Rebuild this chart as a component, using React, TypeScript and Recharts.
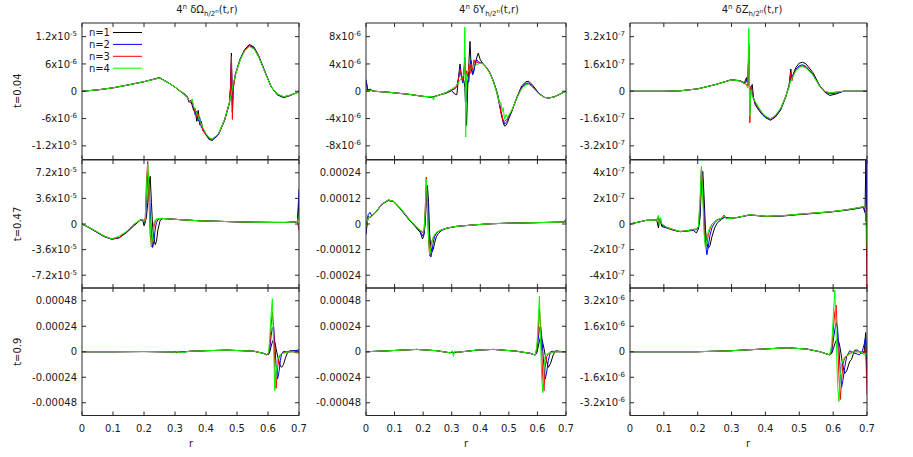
import React from 'react';
import { LineChart, Line, XAxis, YAxis, Legend } from 'recharts';

// ---------- shared labels ----------
const X_TICKS = [0, 0.1, 0.2, 0.3, 0.4, 0.5, 0.6, 0.7];
const X_LABELS = ['0', '0.1', '0.2', '0.3', '0.4', '0.5', '0.6', '0.7'];
const SERIES_KEYS = ['n1', 'n2', 'n3', 'n4'];
const SERIES_NAMES = ['n=1', 'n=2', 'n=3', 'n=4'];
const SERIES_COLORS = ['#000000', '#0000ff', '#ff0000', '#00ff00'];
const COLUMN_SYMBOLS = ['Ω', 'Y', 'Z'];
const ROW_LABELS = ['t=0.04', 't=0.47', 't=0.9'];
const X_TITLE = 'r';

// ---------- row 1 (t=0.04) ----------
// Omega, unit 1e-6
const R1C1_R = [0, 0.05, 0.10, 0.15, 0.20, 0.25, 0.28, 0.30, 0.32, 0.33, 0.34, 0.345, 0.35, 0.355, 0.36, 0.365, 0.37, 0.375, 0.38, 0.385, 0.39, 0.40, 0.41, 0.42, 0.44, 0.46, 0.47, 0.476, 0.479, 0.482, 0.485, 0.488, 0.495, 0.51, 0.525, 0.54, 0.555, 0.57, 0.59, 0.61, 0.63, 0.65, 0.67, 0.69, 0.70];
const R1C1_N1 = [0, 0.3, 0.75, 1.4, 2.1, 3.0, 1.8, 0.9, -0.2, -0.5, -1.3, -2.4, -2.0, -3.0, -4.2, -3.8, -6.6, -4.2, -7.4, -6.6, -8.6, -9.6, -10.6, -10.8, -9.6, -6.4, -4.0, -2.6, 1.0, 8.4, -4.6, 1.0, 3.8, 7.1, 9.2, 10.3, 9.7, 7.8, 4.4, 1.0, -0.8, -1.4, -1.0, -0.4, -0.1];
const R1C1_N2 = [0, 0.3, 0.75, 1.4, 2.1, 2.95, 1.8, 0.9, -0.1, -0.8, -1.2, -2.2, -2.5, -2.3, -3.6, -5.2, -4.4, -6.6, -5.8, -8.0, -8.2, -9.5, -10.4, -10.7, -9.5, -6.3, -3.9, -2.4, 0.5, 6.2, -3.0, 1.3, 3.7, 7.0, 9.1, 10.1, 9.5, 7.7, 4.3, 1.0, -0.7, -1.3, -0.9, -0.4, -0.1];
const R1C1_N3 = [0, 0.3, 0.75, 1.4, 2.1, 2.9, 1.8, 0.9, -0.1, -0.7, -1.4, -2.0, -2.6, -2.0, -3.4, -4.6, -5.6, -5.0, -7.0, -7.4, -8.6, -9.4, -10.3, -10.6, -9.4, -6.2, -3.8, -2.3, 0.0, 7.6, -6.2, 0.6, 3.6, 6.9, 9.0, 10.0, 9.4, 7.6, 4.2, 1.0, -0.6, -1.2, -0.9, -0.4, -0.1];
const R1C1_N4 = [0, 0.3, 0.75, 1.4, 2.1, 2.9, 1.8, 0.9, -0.1, -0.7, -1.5, -1.9, -2.4, -1.7, -3.3, -4.0, -4.8, -5.6, -6.4, -7.2, -8.0, -9.3, -10.2, -10.5, -9.4, -6.2, -3.8, -2.4, -1.2, -0.6, 0.6, 1.8, 3.6, 6.8, 8.9, 9.8, 9.3, 7.5, 4.2, 1.0, -0.6, -1.2, -0.9, -0.4, -0.1];
const R1C1_YTICKS = [-1.2e-5, -6e-6, 0, 6e-6, 1.2e-5];
const R1C1_YLABELS = ['-1.2x10^-5', '-6x10^-6', '0', '6x10^-6', '1.2x10^-5'];

// Y, unit 1e-6
const R1C2_R = [0, 0.006, 0.015, 0.022, 0.03, 0.08, 0.15, 0.20, 0.232, 0.236, 0.24, 0.26, 0.28, 0.30, 0.31, 0.318, 0.324, 0.329, 0.334, 0.339, 0.343, 0.346, 0.349, 0.352, 0.356, 0.36, 0.364, 0.368, 0.373, 0.378, 0.383, 0.388, 0.393, 0.40, 0.408, 0.42, 0.434, 0.446, 0.457, 0.463, 0.468, 0.472, 0.476, 0.48, 0.485, 0.49, 0.495, 0.50, 0.51, 0.527, 0.545, 0.56, 0.57, 0.585, 0.605, 0.625, 0.64, 0.66, 0.68, 0.70];
const R1C2_N1 = [1.7, 0.2, 0.3, 0.1, 0.0, -0.15, -0.45, -0.75, -0.85, -0.8, -0.75, -0.5, -0.3, 0.1, -0.4, -0.5, 2.0, 4.0, 2.2, 1.8, 1.5, 0.5, -2.5, -5.0, 0.5, 4.0, 7.3, 3.5, 2.4, 3.2, 4.2, 5.0, 5.6, 4.6, 4.1, 3.6, 2.7, 1.5, 0.1, -0.8, -2.0, -3.0, -3.8, -4.6, -5.1, -5.0, -4.6, -4.0, -3.0, -1.0, 0.8, 1.4, 1.45, 0.8, -0.3, -0.9, -1.0, -0.8, -0.4, 0.0];
const R1C2_N2 = [1.6, 0.1, 0.2, 0.05, 0.0, -0.15, -0.45, -0.75, -0.85, -0.8, -0.8, -0.5, -0.2, 0.2, 0.3, 0.7, 2.0, 3.6, 2.0, 1.2, 3.0, 5.0, 2.0, -1.5, 1.5, 1.4, 3.8, 4.5, 2.4, 3.0, 4.2, 4.6, 4.3, 4.2, 4.1, 3.55, 2.65, 1.45, 0.0, -1.0, -2.2, -2.8, -3.8, -4.2, -4.8, -4.6, -4.3, -3.8, -2.9, -1.05, 0.6, 1.15, 1.2, 0.65, -0.35, -0.9, -1.0, -0.8, -0.4, 0.0];
const R1C2_N3 = [0.3, 0.1, 0.15, 0.05, 0.0, -0.15, -0.45, -0.75, -0.85, -0.8, -0.8, -0.5, -0.2, 0.25, 0.4, 0.8, 1.8, 3.2, 2.4, 1.6, 3.4, 4.2, 0.5, 3.0, 2.2, 3.8, 2.6, 4.0, 3.2, 4.6, 4.0, 4.2, 4.2, 4.15, 4.05, 3.5, 2.6, 1.4, -0.05, -1.2, -2.0, -3.2, -3.4, -4.4, -4.4, -4.2, -4.1, -3.6, -2.85, -1.05, 0.5, 1.05, 1.1, 0.55, -0.4, -0.9, -1.0, -0.8, -0.4, 0.0];
const R1C2_N4 = [0.05, 0.05, 0.1, 0.05, 0.0, -0.15, -0.45, -0.75, -0.8, -1.3, -0.8, -0.5, -0.2, 0.3, 0.6, 0.9, 1.3, 1.6, 1.9, 2.2, 2.4, 9.4, -6.7, 2.6, 2.8, 3.0, 3.2, 3.35, 3.5, 3.65, 3.8, 3.9, 4.0, 4.1, 4.05, 3.5, 2.6, 1.4, -0.1, -0.9, -1.9, -1.6, -3.0, -2.4, -4.1, -3.4, -3.9, -3.5, -2.8, -1.1, 0.4, 0.95, 1.05, 0.5, -0.4, -0.9, -1.0, -0.8, -0.4, 0.0];
const R1C2_YTICKS = [-8e-6, -4e-6, 0, 4e-6, 8e-6];
const R1C2_YLABELS = ['-8x10^-6', '-4x10^-6', '0', '4x10^-6', '8x10^-6'];

// Z, unit 1e-7
const R1C3_R = [0, 0.10, 0.15, 0.20, 0.25, 0.30, 0.325, 0.338, 0.344, 0.348, 0.351, 0.354, 0.357, 0.361, 0.365, 0.37, 0.38, 0.39, 0.40, 0.415, 0.43, 0.445, 0.46, 0.47, 0.475, 0.478, 0.482, 0.49, 0.50, 0.51, 0.52, 0.54, 0.56, 0.575, 0.59, 0.61, 0.63, 0.70];
const R1C3_N1 = [0, 0.0, 0.03, 0.14, 0.38, 0.68, 0.62, 0.5, 0.8, 0.3, 2.6, -1.2, 0.2, 0.4, -0.4, -0.8, -1.1, -1.35, -1.55, -1.7, -1.5, -1.1, -0.35, 0.4, 1.3, 0.7, 1.0, 1.4, 1.65, 1.7, 1.6, 1.1, 0.35, -0.05, -0.25, -0.15, 0.0, 0.0];
const R1C3_N2 = [0, 0.0, 0.03, 0.14, 0.38, 0.67, 0.6, 0.45, 0.6, 0.8, 2.0, -0.8, 0.2, -0.1, -0.4, -0.7, -1.0, -1.3, -1.5, -1.65, -1.45, -1.05, -0.3, 0.3, 0.9, 0.8, 0.95, 1.3, 1.5, 1.55, 1.45, 1.0, 0.32, -0.02, -0.15, -0.1, 0.0, 0.0];
const R1C3_N3 = [0, 0.0, 0.03, 0.14, 0.38, 0.67, 0.6, 0.45, 0.4, 0.3, 2.8, -1.85, 0.3, -0.2, -0.45, -0.65, -0.97, -1.27, -1.47, -1.63, -1.42, -1.02, -0.3, 0.3, 1.1, 0.6, 0.9, 1.25, 1.45, 1.5, 1.4, 0.97, 0.3, 0.0, -0.1, -0.05, 0.0, 0.0];
const R1C3_N4 = [0, 0.0, 0.03, 0.14, 0.38, 0.67, 0.6, 0.45, 0.35, 0.2, 3.7, -1.45, 0.1, -0.3, -0.45, -0.6, -0.95, -1.25, -1.45, -1.62, -1.4, -1.0, -0.3, 0.3, 0.6, 0.75, 0.9, 1.2, 1.4, 1.45, 1.35, 0.95, 0.3, 0.0, -0.08, -0.05, 0.0, 0.0];
const R1C3_YTICKS = [-3.2e-7, -1.6e-7, 0, 1.6e-7, 3.2e-7];
const R1C3_YLABELS = ['-3.2x10^-7', '-1.6x10^-7', '0', '1.6x10^-7', '3.2x10^-7'];

// ---------- row 2 (t=0.47) ----------
// Omega, unit 1e-5
const R2C1_R = [0, 0.02, 0.047, 0.07, 0.096, 0.12, 0.144, 0.166, 0.187, 0.196, 0.200, 0.204, 0.208, 0.212, 0.216, 0.220, 0.224, 0.228, 0.232, 0.236, 0.240, 0.245, 0.252, 0.26, 0.28, 0.32, 0.38, 0.44, 0.50, 0.56, 0.62, 0.66, 0.69, 0.695, 0.70];
const R2C1_N1 = [0, -0.45, -1.15, -1.75, -2.15, -1.95, -1.2, -0.3, 0.5, 0.6, -0.25, 0.2, 1.0, 3.0, 5.5, 6.7, 3.0, -0.5, -2.0, -2.9, -2.5, -0.8, 0.5, 0.75, 0.72, 0.6, 0.45, 0.38, 0.3, 0.25, 0.22, 0.22, 0.3, 0.35, 3.0];
const R2C1_N2 = [0, -0.42, -1.1, -1.7, -2.12, -1.92, -1.1, -0.15, 0.55, 0.62, 0.1, 0.5, 3.0, 7.2, 6.0, 2.0, -1.5, -3.3, -2.4, -0.8, 0.2, 0.6, 0.75, 0.78, 0.72, 0.6, 0.45, 0.38, 0.3, 0.25, 0.22, 0.22, 0.3, 0.35, 4.9];
const R2C1_N3 = [0, -0.4, -1.07, -1.67, -2.1, -1.9, -1.07, -0.12, 0.55, 0.63, 0.3, 0.8, 6.0, 8.8, 3.5, -1.5, -3.2, -2.0, -0.5, 0.3, 0.6, 0.72, 0.78, 0.78, 0.72, 0.6, 0.45, 0.38, 0.3, 0.25, 0.22, 0.22, 0.3, 0.35, -0.9];
const R2C1_N4 = [0, -0.4, -1.05, -1.65, -2.1, -1.7, -1.05, -0.1, 0.55, 0.65, 0.3, 0.4, 5.0, 8.4, 5.0, 0.0, -3.1, -1.5, 0.2, 0.55, 0.7, 0.75, 0.78, 0.78, 0.72, 0.6, 0.45, 0.38, 0.3, 0.25, 0.22, 0.22, 0.3, 0.35, 1.2];
const R2C1_YTICKS = [-7.2e-5, -3.6e-5, 0, 3.6e-5, 7.2e-5];
const R2C1_YLABELS = ['-7.2x10^-5', '-3.6x10^-5', '0', '3.6x10^-5', '7.2x10^-5'];

// Y, unit 1e-4
const R2C2_R = [0, 0.004, 0.008, 0.014, 0.02, 0.037, 0.054, 0.078, 0.096, 0.119, 0.148, 0.172, 0.19, 0.198, 0.203, 0.207, 0.211, 0.215, 0.219, 0.223, 0.227, 0.231, 0.235, 0.24, 0.246, 0.253, 0.265, 0.283, 0.318, 0.38, 0.435, 0.50, 0.55, 0.62, 0.69, 0.695, 0.70];
const R2C2_N1 = [-0.45, 0.0, 0.35, 0.3, 0.36, 0.58, 0.9, 1.1, 1.05, 0.72, 0.24, -0.12, -0.4, -0.7, -0.5, 0.0, 1.0, 1.8, 1.0, -0.5, -1.1, -1.3, -1.2, -0.9, -0.6, -0.45, -0.3, -0.2, -0.11, -0.04, 0.01, 0.04, 0.05, 0.07, 0.09, 0.1, 0.1];
const R2C2_N2 = [-0.5, 0.2, 0.45, 0.55, 0.38, 0.6, 0.92, 1.12, 1.06, 0.75, 0.26, -0.1, -0.35, -0.55, -0.45, 0.3, 1.7, 1.6, 0.0, -1.2, -1.55, -1.3, -0.9, -0.6, -0.45, -0.36, -0.27, -0.19, -0.11, -0.04, 0.01, 0.04, 0.05, 0.07, 0.09, 0.15, 0.2];
const R2C2_N3 = [-0.2, 0.1, 0.3, 0.3, 0.38, 0.6, 0.92, 1.13, 1.07, 0.76, 0.28, -0.08, -0.3, -0.4, -0.35, 0.6, 2.2, 0.7, -0.8, -1.5, -1.0, -0.8, -0.65, -0.5, -0.4, -0.35, -0.27, -0.19, -0.11, -0.04, 0.01, 0.04, 0.05, 0.07, 0.09, 0.1, 0.1];
const R2C2_N4 = [-0.15, 0.1, 0.3, 0.3, 0.38, 0.6, 0.92, 1.13, 1.07, 0.76, 0.28, -0.08, -0.3, -0.35, -0.3, 0.5, 2.1, 0.9, -0.6, -1.45, -1.1, -0.8, -0.65, -0.5, -0.4, -0.35, -0.27, -0.19, -0.11, -0.04, 0.01, 0.04, 0.05, 0.07, 0.09, 0.1, 0.1];
const R2C2_YTICKS = [-0.00024, -0.00012, 0, 0.00012, 0.00024];
const R2C2_YLABELS = ['-0.00024', '-0.00012', '0', '0.00012', '0.00024'];

// Z, unit 1e-7
const R2C3_R = [0, 0.049, 0.079, 0.084, 0.087, 0.09, 0.094, 0.107, 0.13, 0.148, 0.17, 0.187, 0.196, 0.202, 0.207, 0.211, 0.215, 0.219, 0.223, 0.227, 0.231, 0.236, 0.242, 0.25, 0.258, 0.27, 0.278, 0.285, 0.30, 0.315, 0.354, 0.403, 0.45, 0.492, 0.54, 0.59, 0.63, 0.659, 0.689, 0.694, 0.697, 0.70];
const R2C3_N1 = [0.0, 0.29, 0.3, -0.3, 0.4, 0.2, -0.2, -0.3, -0.5, -0.6, -0.55, -0.5, -0.7, -0.4, 0.5, 3.2, 4.1, 2.0, -0.5, -1.5, -1.9, -1.7, -1.0, -0.3, 0.1, 0.35, 0.5, 0.5, 0.45, 0.5, 0.7, 0.58, 0.62, 0.72, 0.82, 0.93, 1.05, 1.15, 1.3, 0.9, 5.5, -2.5];
const R2C3_N2 = [0.0, 0.29, 0.3, 0.5, 0.1, 0.3, -0.1, -0.25, -0.47, -0.6, -0.53, -0.45, -0.45, -0.3, 1.0, 4.3, 3.5, 0.5, -1.5, -2.4, -1.8, -0.9, -0.3, 0.1, 0.3, 0.42, 0.55, 0.45, 0.45, 0.5, 0.71, 0.6, 0.64, 0.74, 0.84, 0.94, 1.07, 1.18, 1.33, 1.2, 0.2, 5.5];
const R2C3_N3 = [0.0, 0.29, 0.3, 0.6, -0.05, 0.45, 0.0, -0.24, -0.45, -0.58, -0.52, -0.42, -0.4, -0.25, 1.6, 4.4, 2.6, -0.3, -1.8, -1.6, -0.9, -0.4, 0.0, 0.2, 0.34, 0.45, 0.7, 0.45, 0.45, 0.5, 0.72, 0.6, 0.65, 0.75, 0.85, 0.95, 1.08, 1.2, 1.35, 1.35, 1.5, -6.0];
const R2C3_N4 = [0.0, 0.29, 0.3, 0.7, -0.1, 0.5, 0.0, -0.24, -0.45, -0.58, -0.52, -0.42, -0.4, -0.2, 2.0, 4.5, 2.0, -0.8, -1.9, -1.2, -0.6, -0.3, 0.0, 0.2, 0.34, 0.45, 0.6, 0.4, 0.45, 0.5, 0.72, 0.6, 0.65, 0.75, 0.85, 0.95, 1.08, 1.2, 1.35, 1.35, 1.0, -1.8];
const R2C3_YTICKS = [-4e-7, -2e-7, 0, 2e-7, 4e-7];
const R2C3_YLABELS = ['-4x10^-7', '-2x10^-7', '0', '2x10^-7', '4x10^-7'];

// ---------- row 3 (t=0.9) ----------
// Omega, unit 1e-4
const R3C1_R = [0, 0.1, 0.2, 0.3, 0.305, 0.31, 0.316, 0.35, 0.40, 0.467, 0.553, 0.585, 0.596, 0.602, 0.606, 0.61, 0.614, 0.618, 0.622, 0.626, 0.631, 0.636, 0.64, 0.644, 0.65, 0.656, 0.664, 0.672, 0.68, 0.69, 0.70];
const R3C1_N1 = [0.0, 0.0, 0.02, -0.02, -0.05, 0.0, -0.05, 0.05, 0.1, 0.15, 0.06, -0.15, -0.28, -0.25, 0.0, 0.5, 0.9, 1.17, 0.9, 0.3, -0.4, -1.0, -1.35, -1.47, -1.2, -0.6, 0.0, 0.1, 0.1, 0.1, 0.05];
const R3C1_N2 = [0.0, 0.0, 0.02, -0.02, -0.05, 0.0, -0.05, 0.05, 0.1, 0.15, 0.06, -0.15, -0.28, -0.2, 0.3, 1.5, 2.2, 2.35, 0.8, -1.2, -2.57, -1.8, -0.8, -0.2, 0.05, 0.0, -0.05, 0.0, 0.05, 0.1, 0.2];
const R3C1_N3 = [0.0, 0.0, 0.02, -0.02, -0.05, 0.0, -0.05, 0.05, 0.1, 0.15, 0.06, -0.15, -0.28, -0.15, 0.8, 2.5, 3.76, 2.5, -1.5, -3.45, -1.5, -0.5, -0.3, -0.2, -0.1, -0.05, 0.0, 0.0, 0.0, -0.1, -0.1];
const R3C1_N4 = [0.0, 0.0, 0.02, -0.02, -0.15, 0.05, -0.1, 0.05, 0.1, 0.15, 0.06, -0.15, -0.28, -0.1, 1.5, 3.5, 5.0, 0.5, -3.67, -2.0, -0.8, -0.35, -0.25, -0.2, -0.15, -0.1, -0.05, 0.0, 0.0, -0.05, 0.0];
const R3C1_YTICKS = [-0.00048, -0.00024, 0, 0.00024, 0.00048];
const R3C1_YLABELS = ['-0.00048', '-0.00024', '0', '0.00024', '0.00048'];

// Y, unit 1e-4
const R3C2_R = [0, 0.084, 0.177, 0.247, 0.294, 0.302, 0.306, 0.31, 0.32, 0.387, 0.446, 0.525, 0.575, 0.592, 0.598, 0.603, 0.607, 0.611, 0.615, 0.619, 0.623, 0.627, 0.632, 0.638, 0.646, 0.655, 0.664, 0.675, 0.69, 0.70];
const R3C2_N1 = [0.0, 0.1, 0.22, 0.1, -0.1, 0.0, -0.1, -0.05, -0.05, 0.15, 0.22, 0.06, -0.15, -0.31, -0.1, 0.5, 1.0, 1.41, 1.2, 0.8, 0.3, -0.3, -0.9, -1.47, -1.1, -0.3, 0.1, 0.05, 0.0, 0.0];
const R3C2_N2 = [0.0, 0.1, 0.22, 0.1, -0.1, 0.0, -0.1, -0.05, -0.05, 0.15, 0.22, 0.06, -0.15, -0.31, 0.1, 1.2, 2.2, 2.42, 1.5, 0.0, -1.5, -2.57, -2.0, -0.8, 0.0, 0.05, 0.0, 0.0, 0.0, 0.0];
const R3C2_N3 = [0.0, 0.1, 0.22, 0.1, -0.1, 0.0, -0.15, -0.05, -0.05, 0.15, 0.22, 0.06, -0.15, -0.31, 0.3, 2.0, 4.08, 2.5, 0.0, -2.5, -3.67, -1.5, -0.5, -0.2, -0.1, -0.05, 0.0, 0.0, 0.0, 0.0];
const R3C2_N4 = [0.0, 0.1, 0.22, 0.1, -0.1, 0.1, -0.45, 0.05, -0.05, 0.15, 0.22, 0.06, -0.15, -0.31, 0.5, 3.0, 5.24, 1.0, -2.5, -3.85, -1.5, -0.4, -0.25, -0.15, -0.1, -0.05, 0.0, 0.0, 0.0, 0.0];
const R3C2_YTICKS = [-0.00048, -0.00024, 0, 0.00024, 0.00048];
const R3C2_YLABELS = ['-0.00048', '-0.00024', '0', '0.00024', '0.00048'];

// Z, unit 1e-6
const R3C3_R = [0, 0.196, 0.295, 0.394, 0.463, 0.522, 0.561, 0.59, 0.596, 0.601, 0.605, 0.609, 0.613, 0.617, 0.621, 0.625, 0.629, 0.634, 0.64, 0.649, 0.654, 0.66, 0.664, 0.672, 0.677, 0.686, 0.692, 0.696, 0.70];
const R3C3_N1 = [0, 0.0, 0.06, 0.17, 0.25, 0.17, 0.0, -0.2, -0.1, 0.2, 0.5, 0.7, 0.78, 0.6, 0.2, -0.4, -0.9, -1.36, -1.2, -0.6, -0.5, -0.1, 0.1, 0.1, 0.0, -0.1, 0.0, 1.2, -1.8];
const R3C3_N2 = [0, 0.0, 0.06, 0.17, 0.25, 0.17, 0.0, -0.2, 0.0, 0.8, 1.4, 1.82, 1.5, 0.3, -1.2, -2.23, -1.8, -1.0, -0.3, 0.06, 0.0, -0.05, -0.1, -0.15, -0.2, 0.0, 0.5, 0.94, -1.5];
const R3C3_N3 = [0, 0.0, 0.06, 0.17, 0.25, 0.17, 0.0, -0.2, 0.2, 1.5, 2.5, 2.93, 1.0, -1.5, -3.0, -1.8, -0.8, -0.4, -0.3, -0.1, -0.05, 0.0, 0.0, 0.0, 0.0, 0.0, -0.1, 0.3, -2.7];
const R3C3_N4 = [0, 0.0, 0.06, 0.17, 0.25, 0.17, 0.0, -0.2, 0.5, 2.5, 3.87, 1.0, -2.0, -3.13, -1.5, -0.8, -0.5, -0.35, -0.25, -0.15, -0.1, 0.0, 0.0, 0.0, 0.0, -0.05, -0.2, -0.25, 0.0];
const R3C3_YTICKS = [-3.2e-6, -1.6e-6, 0, 1.6e-6, 3.2e-6];
const R3C3_YLABELS = ['-3.2x10^-6', '-1.6x10^-6', '0', '1.6x10^-6', '3.2x10^-6'];

// ---------- panel table ----------
const PANELS = [
  { row: 0, col: 0, r: R1C1_R, s: [R1C1_N1, R1C1_N2, R1C1_N3, R1C1_N4], unit: 1e-6, domain: [-1.5e-5, 1.5e-5], yTicks: R1C1_YTICKS, yLabels: R1C1_YLABELS, legend: true },
  { row: 0, col: 1, r: R1C2_R, s: [R1C2_N1, R1C2_N2, R1C2_N3, R1C2_N4], unit: 1e-6, domain: [-1e-5, 1e-5], yTicks: R1C2_YTICKS, yLabels: R1C2_YLABELS },
  { row: 0, col: 2, r: R1C3_R, s: [R1C3_N1, R1C3_N2, R1C3_N3, R1C3_N4], unit: 1e-7, domain: [-4e-7, 4e-7], yTicks: R1C3_YTICKS, yLabels: R1C3_YLABELS },
  { row: 1, col: 0, r: R2C1_R, s: [R2C1_N1, R2C1_N2, R2C1_N3, R2C1_N4], unit: 1e-5, domain: [-9e-5, 9e-5], yTicks: R2C1_YTICKS, yLabels: R2C1_YLABELS },
  { row: 1, col: 1, r: R2C2_R, s: [R2C2_N1, R2C2_N2, R2C2_N3, R2C2_N4], unit: 1e-4, domain: [-3e-4, 3e-4], yTicks: R2C2_YTICKS, yLabels: R2C2_YLABELS },
  { row: 1, col: 2, r: R2C3_R, s: [R2C3_N1, R2C3_N2, R2C3_N3, R2C3_N4], unit: 1e-7, domain: [-5e-7, 5e-7], yTicks: R2C3_YTICKS, yLabels: R2C3_YLABELS },
  { row: 2, col: 0, r: R3C1_R, s: [R3C1_N1, R3C1_N2, R3C1_N3, R3C1_N4], unit: 1e-4, domain: [-6e-4, 6e-4], yTicks: R3C1_YTICKS, yLabels: R3C1_YLABELS },
  { row: 2, col: 1, r: R3C2_R, s: [R3C2_N1, R3C2_N2, R3C2_N3, R3C2_N4], unit: 1e-4, domain: [-6e-4, 6e-4], yTicks: R3C2_YTICKS, yLabels: R3C2_YLABELS },
  { row: 2, col: 2, r: R3C3_R, s: [R3C3_N1, R3C3_N2, R3C3_N3, R3C3_N4], unit: 1e-6, domain: [-4e-6, 4e-6], yTicks: R3C3_YTICKS, yLabels: R3C3_YLABELS },
];

// ---------- layout ----------
const COLS = [
  { left: 82, right: 299, titleX: 207, labelX: 191 },
  { left: 366, right: 566, titleX: 489, labelX: 466 },
  { left: 630, right: 867, titleX: 752, labelX: 748 },
];
const ROWS = [
  { top: 22.5, bottom: 159 },
  { top: 160, bottom: 288 },
  { top: 288, bottom: 415.5 },
];
const AXW = 80; // width of the label axis
const FW = 1; // size of each frame axis
const RM = 14;
const FONT = "'DejaVu Sans', 'Noto Sans', sans-serif";
const TEXT = '#1a1a1a';
const FRAME = { stroke: '#262626', strokeWidth: 1 };
const HIDDEN_TICK = <g />;

function YTick(props: any) {
  const { x, y, index, labels } = props;
  const lab: string = labels[index] ?? '';
  const [base, exp] = lab.split('^');
  return (
    <text x={x} y={y} dy="0.36em" textAnchor="end" fontSize={10} fontFamily={FONT} fill={TEXT}>
      {base}
      {exp !== undefined && (
        <tspan dy={-4} fontSize={7}>
          {exp}
        </tspan>
      )}
    </text>
  );
}

function XTick(props: any) {
  const { x, y, index } = props;
  return (
    <text x={x} y={y} textAnchor="middle" fontSize={10} fontFamily={FONT} fill={TEXT}>
      {X_LABELS[index]}
    </text>
  );
}

function renderLegend(props: any) {
  const payload = props.payload || [];
  return (
    <svg width={70} height={50} style={{ display: 'block' }}>
      {payload.map((e: any, i: number) => (
        <g key={i}>
          <text x={30} y={6.5 + i * 11.9} dy="0.36em" textAnchor="end" fontSize={10} fontFamily={FONT} fill={TEXT}>
            {e.value}
          </text>
          <line x1={33} x2={62} y1={6.5 + i * 11.9} y2={6.5 + i * 11.9} stroke={e.color} strokeWidth={1} />
        </g>
      ))}
    </svg>
  );
}

function Panel({ p }: { p: any }) {
  const col = COLS[p.col];
  const row = ROWS[p.row];
  const W = col.right - col.left;
  const H = row.bottom - row.top;
  const isBottom = p.row === 2;
  const labH = isBottom ? 40 : 0;
  const data = p.r.map((r: number, i: number) => ({
    r,
    n1: p.s[0][i] * p.unit,
    n2: p.s[1][i] * p.unit,
    n3: p.s[2][i] * p.unit,
    n4: p.s[3][i] * p.unit,
  }));
  const chartW = AXW + FW + W + FW + RM;
  const chartH = FW + H + FW + labH;
  return (
    <div style={{ position: 'absolute', left: col.left - AXW - FW, top: row.top - FW }}>
      <LineChart width={chartW} height={chartH} data={data} margin={{ top: 0, right: RM, bottom: 0, left: 0 }}>
        {/* frame + inward ticks (first declared = nearest the plot) */}
        <XAxis xAxisId="b" orientation="bottom" type="number" dataKey="r" domain={[0, 0.7]} ticks={X_TICKS} interval={0}
          allowDataOverflow height={FW} tickSize={-4} tickMargin={0} axisLine={FRAME} tickLine={FRAME} tick={HIDDEN_TICK} />
        <XAxis xAxisId="t" orientation="top" type="number" dataKey="r" domain={[0, 0.7]} ticks={X_TICKS} interval={0}
          allowDataOverflow height={FW} tickSize={-4} tickMargin={0} axisLine={FRAME} tickLine={FRAME} tick={HIDDEN_TICK} />
        <YAxis yAxisId="l" orientation="left" type="number" width={FW} domain={p.domain} ticks={p.yTicks} interval={0}
          allowDataOverflow tickSize={-4} tickMargin={0} axisLine={FRAME} tickLine={FRAME} tick={HIDDEN_TICK} />
        <YAxis yAxisId="r" orientation="right" type="number" width={FW} domain={p.domain} ticks={p.yTicks} interval={0}
          allowDataOverflow tickSize={-4} tickMargin={0} axisLine={FRAME} tickLine={FRAME} tick={HIDDEN_TICK} />
        {/* tick labels */}
        <YAxis yAxisId="lab" orientation="left" type="number" width={AXW} domain={p.domain} ticks={p.yTicks} interval={0}
          allowDataOverflow tickSize={0} tickMargin={4} axisLine={false} tickLine={false}
          tick={(tp: any) => <YTick {...tp} labels={p.yLabels} />} />
        {isBottom && (
          <XAxis xAxisId="xlab" orientation="bottom" type="number" dataKey="r" domain={[0, 0.7]} ticks={X_TICKS} interval={0}
            allowDataOverflow height={labH} tickSize={0} tickMargin={15} axisLine={false} tickLine={false}
            tick={(tp: any) => <XTick {...tp} />} />
        )}
        {SERIES_KEYS.map((k, i) => (
          <Line
            key={k}
            xAxisId="b"
            yAxisId="l"
            type="linear"
            dataKey={k}
            name={SERIES_NAMES[i]}
            stroke={SERIES_COLORS[i]}
            strokeWidth={1}
            dot={false}
            activeDot={false}
            isAnimationActive={false}
          />
        ))}
        {p.legend && (
          <Legend
            layout="vertical"
            align="center"
            verticalAlign="middle"
            content={renderLegend}
            wrapperStyle={{ position: 'absolute', left: 79, top: 4.5, width: 70, height: 50 }}
          />
        )}
      </LineChart>
    </div>
  );
}

function Title({ x, sym }: { x: number; sym: string }) {
  return (
    <text x={x} y={13} textAnchor="middle" fontSize={10} fontFamily={FONT} fill={TEXT}>
      4
      <tspan dy={-4} fontSize={7}>n</tspan>
      <tspan dy={4}>{' δ' + sym}</tspan>
      <tspan dy={3} fontSize={7}>h/2</tspan>
      <tspan dy={-3} fontSize={5.5}>n</tspan>
      <tspan dy={0}>(t,r)</tspan>
    </text>
  );
}

export default function App() {
  return (
    <div style={{ position: 'absolute', left: 0, top: 0, width: 913, height: 457, background: '#ffffff', overflow: 'hidden' }}>
      {PANELS.map((p, i) => (
        <Panel key={i} p={p} />
      ))}
      <svg width={913} height={457} style={{ position: 'absolute', left: 0, top: 0, pointerEvents: 'none' }}>
        {COLS.map((c, i) => (
          <Title key={'t' + i} x={c.titleX} sym={COLUMN_SYMBOLS[i]} />
        ))}
        {ROWS.map((r, i) => (
          <text
            key={'r' + i}
            transform={`translate(21, ${(r.top + r.bottom) / 2}) rotate(-90)`}
            textAnchor="middle"
            fontSize={10}
            fontFamily={FONT}
            fill={TEXT}
          >
            {ROW_LABELS[i]}
          </text>
        ))}
        {COLS.map((c, i) => (
          <text key={'x' + i} x={c.labelX} y={447} textAnchor="middle" fontSize={10} fontFamily={FONT} fill={TEXT}>
            {X_TITLE}
          </text>
        ))}
      </svg>
    </div>
  );
}
